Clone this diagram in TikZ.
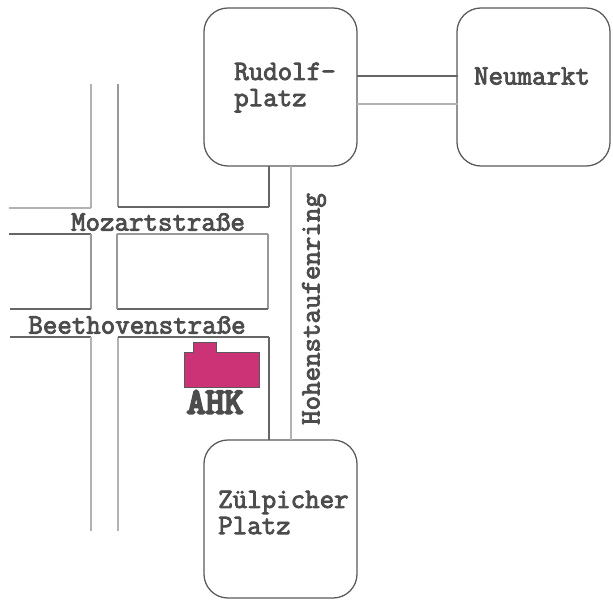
\documentclass[tikz,border=0pt]{standalone}
\usepackage{tikz}
\usepackage{fontspec}
\newfontfamily\mapfont[FakeBold=3]{Latin Modern Mono}
\newfontfamily\housefont[FakeBold=6]{Latin Modern Mono}

\begin{document}
\begin{tikzpicture}
[x=0.025cm,y=-0.025cm,
  squaredecorate/.style={shape=rectangle,draw=gray!70!black,line width=0.9pt,rounded corners=0.6cm,inner sep=0pt,minimum width=3.825cm,minimum height=3.95cm},%
  namedecorate/.style={inner sep=0pt,align=left,text=black!70,font=\fontsize{20}{18.6}\mapfont},
  darkline/.style={-,line width=0.8pt,color=black!60},
  lightline/.style={-,line width=1.6pt,color=gray!60},
  midline/.style={-,line width=1.1pt,color=gray!80}]
\useasboundingbox (0,0) rectangle (613,604);
% squares
\node (rudolf) at (280.5,87) [squaredecorate] {};
\node (neumarkt) at (533.5,87) [squaredecorate] {};
\node (zuelpich) at (280.5,519) [squaredecorate] {};
% square names
\node (rudolfname) at (234,87.5) [namedecorate,anchor=west] {Rudolf-\\platz};
\node (neumarktname) at (532,76) [namedecorate] {Neumarkt};
\node (zuelpichname) at (218,512.5) [namedecorate,anchor=west] {Zülpicher\\Platz};
% street names
\node (mozart) at (158,222) [namedecorate] {Mozartstraße};
\node (beethoven) at (137,325) [namedecorate] {Beethovenstraße};
\node (ring) at (314,309) [namedecorate,rotate=90] {Hohenstaufenring};
\node (ahk) at (215,402) [namedecorate,font=\fontsize{26}{26}\housefont] {AHK};
% house
\fill[fill={rgb,255:red,204;green,51;blue,119},draw=gray!70!black,line width=0.4pt]
(184,387) -- (184,352) -- (193,352) -- (193,342) -- (216,342) -- (216,352)
-- (259,352) -- (259,387) -- cycle;
% ends of streets
\coordinate (a1) at (91,84);
\coordinate (a2) at (91,208);
\coordinate (a3) at (9,208);
\coordinate (b1) at (118,84);
\coordinate (b2) at (118,207);
\coordinate (b3) at (269,207);
\coordinate (b4) at (269,166);
\coordinate (c1) at (9,234);
\coordinate (c2) at (91,234);
\coordinate (c3) at (91,309);
\coordinate (c4) at (10,309);
\coordinate (d1) at (117,234);
\coordinate (d2) at (268,234);
\coordinate (d3) at (268,309);
\coordinate (d4) at (117,309);
\coordinate (e1) at (10,337);
\coordinate (e2) at (91,337);
\coordinate (e3) at (91,531);
\coordinate (f1) at (118,531);
\coordinate (f2) at (118,337);
\coordinate (f3) at (269,337);
\coordinate (f4) at (269,440);
\coordinate (g1) at (291,166);
\coordinate (g2) at (291,440);
\coordinate (h1) at (357,76);
\coordinate (h2) at (458,76);
\coordinate (h3) at (357,104);
\coordinate (h4) at (458,104);
% edges or lines
\path
% upper left
(a1) edge[lightline] node {} (a2)
(a2) edge[lightline] node {} (a3)
(b1) edge[midline] node {} (b2)
(b2) edge[darkline] node {} (b3)
(b3) edge[darkline] node {} (b4)
% between the two streets
(c1) edge[darkline] node {} (c2)
(c2) edge[midline] node {} (c3)
(c3) edge[darkline] node {} (c4)
(d1) edge[midline] node {} (d2)
(d2) edge[midline] node {} (d3)
(d3) edge[darkline] node {} (d4)
(d4) edge[midline] node {} (d1)
% lower left
(e1) edge[darkline] node {} (e2)
(e2) edge[lightline] node {} (e3)
(f1) edge[lightline] node {} (f2)
(f2) edge[darkline] node {} (f3)
(f3) edge[darkline] node {} (f4)
% joining the squares
(g1) edge[lightline] node {} (g2)
(h1) edge[darkline] node {} (h2)
(h3) edge[lightline] node {} (h4);
\end{tikzpicture}
\end{document}
